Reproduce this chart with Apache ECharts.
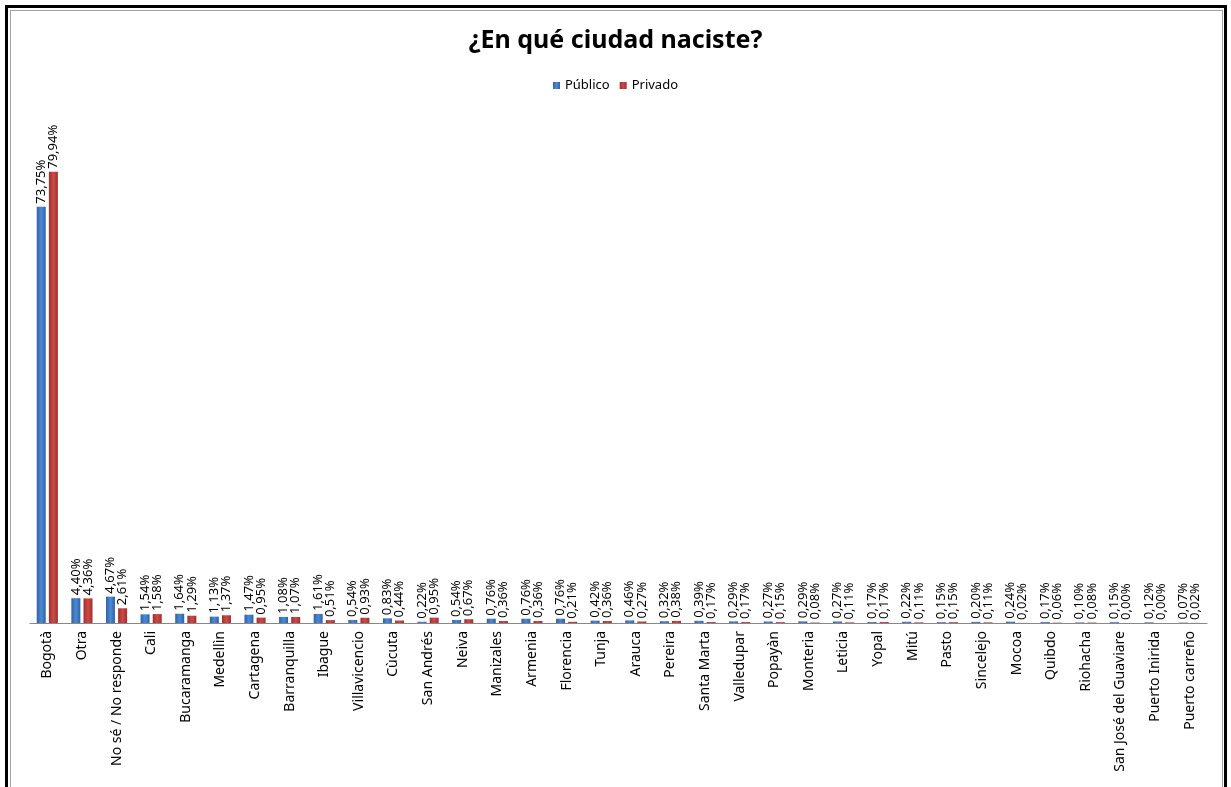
<!DOCTYPE html>
<html>
<head>
<meta charset="utf-8">
<script src="https://cdn.jsdelivr.net/npm/echarts@6/dist/echarts.min.js"></script>
<style>
  body { margin: 0; background: #fff; }
  .frame-outer {
    position: absolute; left: 5px; top: 5px; width: 1216px; height: 800px;
    border: 3px solid #000; border-bottom: none;
  }
  .frame-inner {
    position: absolute; left: 10px; top: 10px; width: 1211px; height: 800px;
    border: 1px solid #a0a0a0; border-bottom: none;
  }
  #chart { position: absolute; left: 0; top: 0; width: 1231px; height: 787px; }
</style>
</head>
<body>
<div class="frame-outer"></div>
<div class="frame-inner"></div>
<div id="chart"></div>
<script>
// ciudades
const cities = [
  'Bogotà', 'Otra', 'No sé / No responde', 'Cali', 'Bucaramanga', 'Medellìn',
  'Cartagena', 'Barranquilla', 'Ibague', 'Villavicencio', 'Cùcuta', 'San Andrés',
  'Neiva', 'Manizales', 'Armenia', 'Florencia', 'Tunja', 'Arauca', 'Pereira',
  'Santa Marta', 'Valledupar', 'Popayàn', 'Monteria', 'Leticia', 'Yopal', 'Mitú',
  'Pasto', 'Sincelejo', 'Mocoa', 'Quibdo', 'Riohacha', 'San José del Guaviare',
  'Puerto Inirida', 'Puerto carreño'
]

const publico = [
  73.75, 4.40, 4.67, 1.54, 1.64, 1.13, 1.47, 1.08, 1.61, 0.54, 0.83, 0.22,
  0.54, 0.76, 0.76, 0.76, 0.42, 0.46, 0.32, 0.39, 0.29, 0.27, 0.29, 0.27,
  0.17, 0.22, 0.15, 0.20, 0.24, 0.17, 0.10, 0.15, 0.12, 0.07
]

const privado = [
  79.94, 4.36, 2.61, 1.58, 1.29, 1.37, 0.95, 1.07, 0.51, 0.93, 0.44, 0.95,
  0.67, 0.36, 0.36, 0.21, 0.36, 0.27, 0.38, 0.17, 0.17, 0.15, 0.08, 0.11,
  0.17, 0.11, 0.15, 0.11, 0.02, 0.06, 0.08, 0.00, 0.00, 0.02
]

const font = 'Noto Sans'

// degradado horizontal tipo Excel
const barFill = (edge, mid) => new echarts.graphic.LinearGradient(0, 0, 1, 0, [
  { offset: 0, color: edge },
  { offset: 0.5, color: mid },
  { offset: 1, color: edge },
])

const valueLabel = {
  show: true,
  position: 'top',
  rotate: 90,
  align: 'left',
  verticalAlign: 'middle',
  distance: 3,
  fontFamily: font,
  fontSize: 13,
  color: '#000',
  formatter: (p) => p.value.toFixed(2).replace('.', ',') + '%',
}

const chart = echarts.init(document.getElementById('chart'))

chart.setOption({
  animation: false,
  title: {
    text: '¿En qué ciudad naciste?',
    left: 'center',
    top: 23,
    textStyle: { fontFamily: font, fontSize: 25, fontWeight: 'bold', color: '#000' },
  },
  legend: {
    top: 74,
    left: 'center',
    itemWidth: 7,
    itemHeight: 7,
    itemGap: 10,
    icon: 'rect',
    textStyle: { fontFamily: font, fontSize: 13, color: '#000' },
    data: ['Público', 'Privado'],
  },
  grid: {
    top: 115,
    left: 30,
    right: 24,
    bottom: 164,
  },
  xAxis: {
    type: 'category',
    data: cities,
    axisLine: { lineStyle: { color: '#888', width: 1 } },
    axisTick: { show: false },
    axisLabel: {
      rotate: 90,
      interval: 0,
      margin: 8,
      fontFamily: font,
      fontSize: 14,
      color: '#000',
    },
  },
  yAxis: {
    type: 'value',
    min: 0,
    max: 90,
    show: false,
    splitLine: { show: false },
  },
  series: [
    {
      name: 'Público',
      type: 'bar',
      data: publico,
      barWidth: 9,
      barGap: '35%',
      itemStyle: { color: barFill('#2f62a6', '#4d8ad4') },
      label: valueLabel,
    },
    {
      name: 'Privado',
      type: 'bar',
      data: privado,
      barWidth: 9,
      itemStyle: { color: barFill('#a02f2c', '#cf4a46') },
      label: valueLabel,
    },
  ],
})
</script>
</body>
</html>
